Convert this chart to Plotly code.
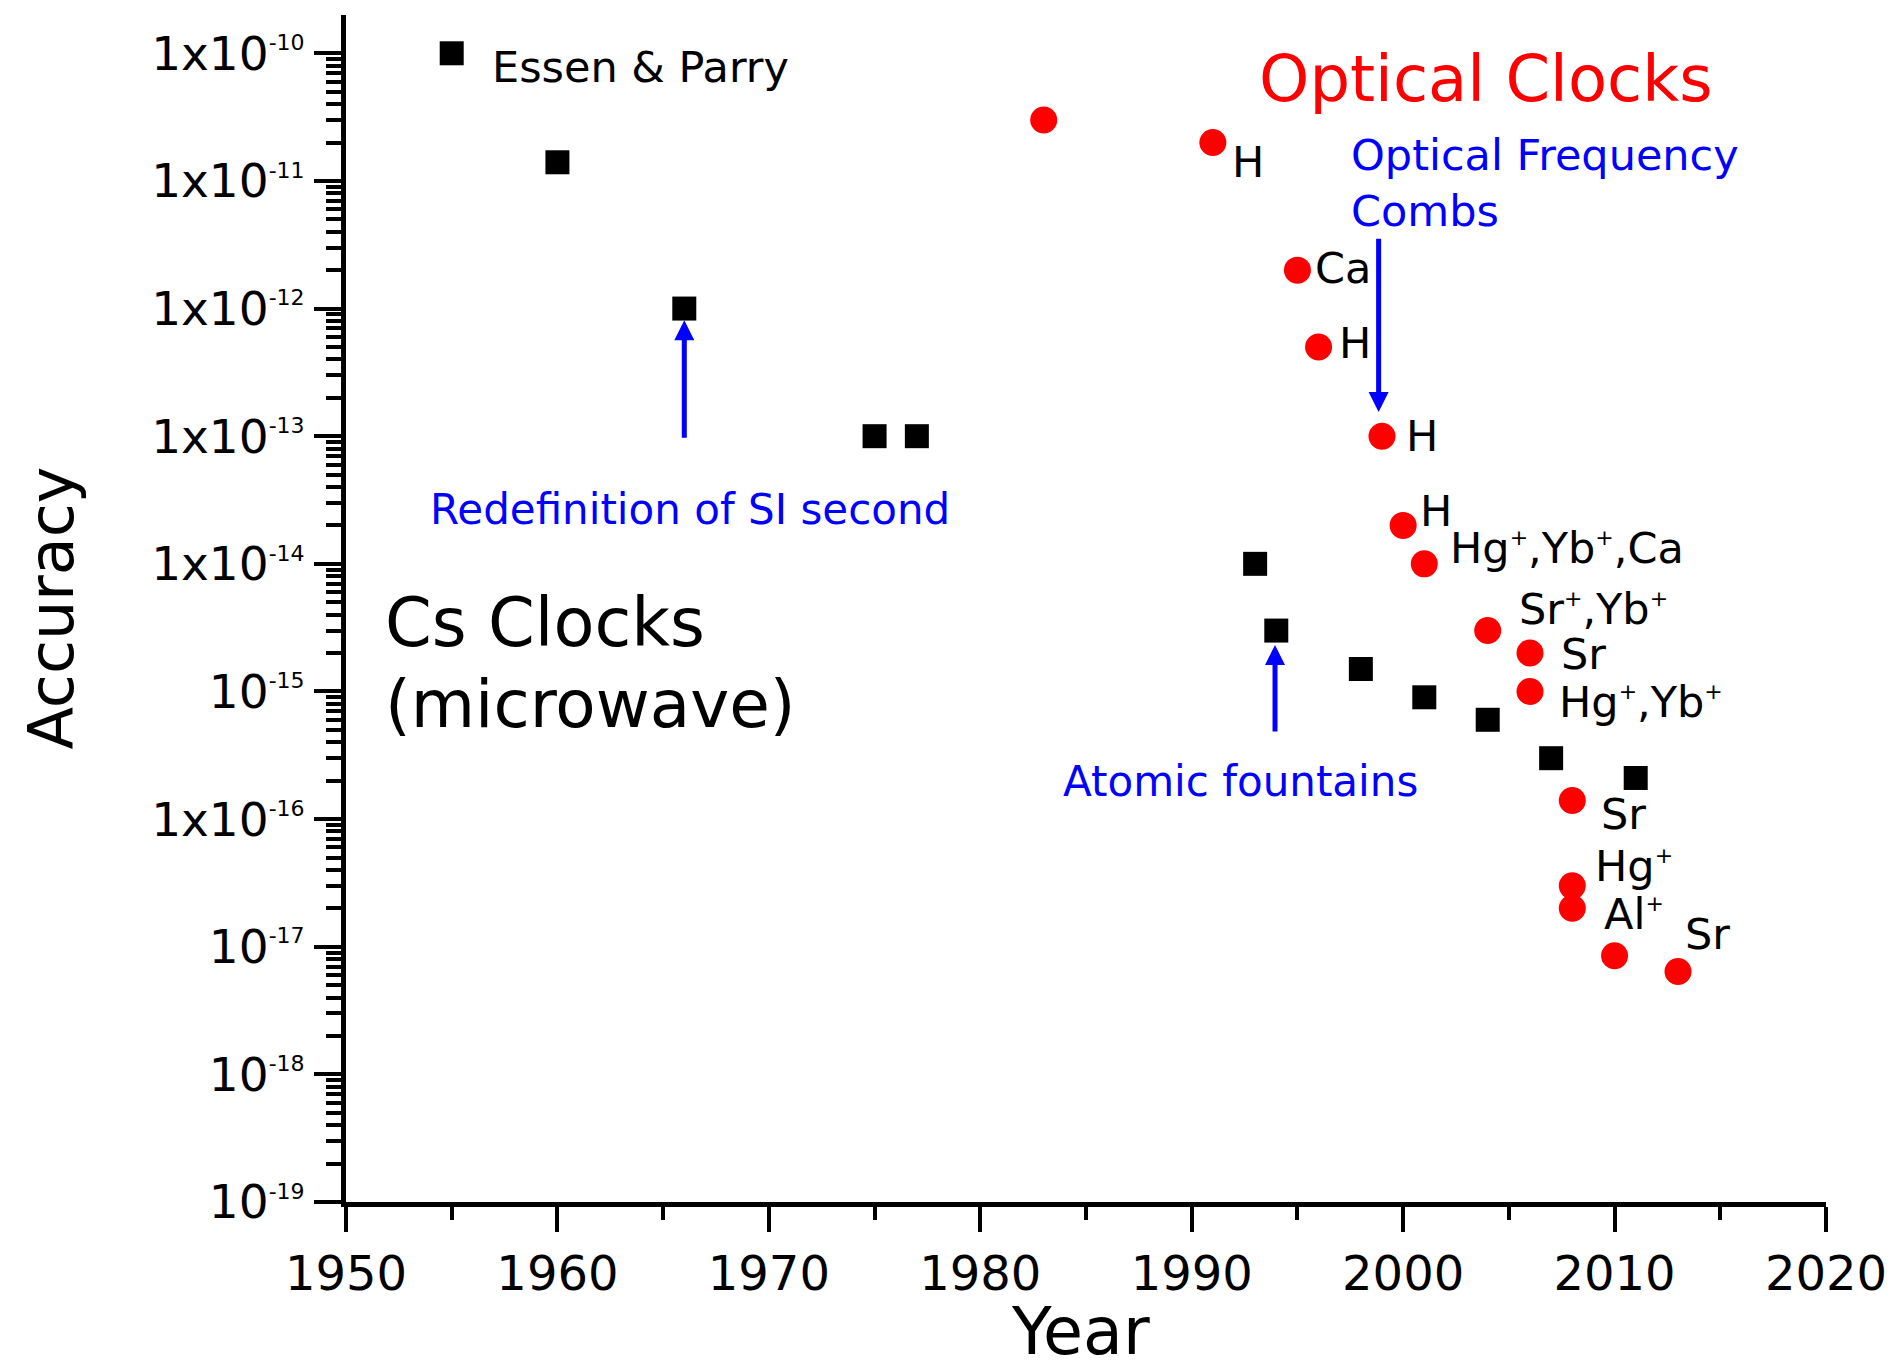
import math
import plotly.graph_objects as go

# ---------------- data ----------------
cs_years = [1955, 1960, 1966, 1975, 1977, 1993, 1994, 1998, 2001, 2004, 2007, 2011]
cs_accuracy = [1e-10, 1.4e-11, 1e-12, 1e-13, 1e-13, 1e-14, 3e-15, 1.5e-15, 9e-16, 6e-16, 3e-16, 2.1e-16]

opt_years = [1983, 1991, 1995, 1996, 1999, 2000, 2001, 2004, 2006, 2006, 2008, 2008, 2008, 2010, 2013]
opt_accuracy = [3e-11, 2e-11, 2e-12, 5e-13, 1e-13, 2e-14, 1e-14, 3e-15, 2e-15, 1e-15,
                1.4e-16, 3e-17, 2e-17, 8.5e-18, 6.4e-18]
opt_labels = ["", "H", "Ca", "H", "H", "H", "Hg+,Yb+,Ca", "Sr+,Yb+", "Sr", "Hg+,Yb+",
              "Sr", "Hg+", "Al+", "", "Sr"]

x_ticks = [1950, 1960, 1970, 1980, 1990, 2000, 2010, 2020]
x_minor = [1955, 1965, 1975, 1985, 1995, 2005, 2015]
y_exponents = [-19, -18, -17, -16, -15, -14, -13, -12, -11, -10]
y_prefix = ["", "", "", "1x", "", "1x", "1x", "1x", "1x", "1x"]

# ---------------- styling ----------------
FONT = "DejaVu Sans"
label_shift = [(0, 0), (17, -19), (16, 2), (18, 4), (22, 0), (15, 14), (24, 16), (29, 22),
               (29, -1), (27, -11), (27, -14), (21, 20), (30, -6), (0, 0), (5, 37)]


def sup_html(text, size):
    return text.replace("+", "<sup><span style='font-size:%dpx'>+</span></sup>" % size)


y_tickvals = [10.0 ** e for e in y_exponents]
y_ticktext = ["%s10<sup><span style='font-size:22px'>%d</span></sup>" % (p, e)
              for p, e in zip(y_prefix, y_exponents)]
y_minor = [m * 10.0 ** e for e in y_exponents[:-1] for m in range(2, 10)]
y_range = [-19, -9.7]

fig = go.Figure()
fig.add_trace(go.Scatter(x=cs_years, y=cs_accuracy, mode="markers",
                         marker=dict(symbol="square", size=24, color="black", line=dict(width=0)),
                         name="Cs clocks"))
fig.add_trace(go.Scatter(x=opt_years, y=opt_accuracy, mode="markers",
                         marker=dict(symbol="circle", size=27, color="#FF0000", line=dict(width=0)),
                         name="Optical clocks"))

ann = []
# point labels
for xv, yv, lab, (dx, dy) in zip(opt_years, opt_accuracy, opt_labels, label_shift):
    if not lab:
        continue
    ann.append(dict(x=xv, y=math.log10(yv), xref="x", yref="y", text=sup_html(lab, 22),
                    showarrow=False, xanchor="left", yanchor="middle", xshift=dx, yshift=dy,
                    font=dict(family=FONT, size=43, color="black")))
ann.append(dict(x=cs_years[0], y=math.log10(cs_accuracy[0]), xref="x", yref="y",
                text="Essen & Parry", showarrow=False, xanchor="left", yanchor="middle",
                xshift=38, yshift=-14, font=dict(family=FONT, size=43, color="black")))

# free texts
free = [
    dict(x=1993.1, y=-10.2, text="Optical Clocks", font=dict(family=FONT, size=64, color="#FF0000")),
    dict(x=1997.45, y=-11.014, text="Optical Frequency<br>Combs", align="left",
         font=dict(family=FONT, size=43, color="#0000FF")),
    dict(x=1953.88, y=-13.571, text="Redefinition of SI second", font=dict(family=FONT, size=42, color="#0000FF")),
    dict(x=1951.75, y=-14.464, text="Cs Clocks", font=dict(family=FONT, size=67, color="black")),
    dict(x=1951.75, y=-15.106, text="(microwave)", font=dict(family=FONT, size=66, color="black")),
    dict(x=1983.82, y=-15.709, text="Atomic fountains", font=dict(family=FONT, size=42, color="#0000FF")),
]
for a in free:
    a.update(xref="x", yref="y", showarrow=False, xanchor="left", yanchor="middle")
ann += free

# arrows
for (xa, tip, tail) in [(1966, -12.091, -13.023), (1998.84, -12.811, -11.441), (1993.94, -14.636, -15.325)]:
    ann.append(dict(x=xa, y=tip, ax=xa, ay=tail, xref="x", yref="y", axref="x", ayref="y",
                    text="", showarrow=True, arrowhead=2, arrowsize=0.8, arrowwidth=5,
                    arrowcolor="#0000FF", standoff=0, startstandoff=0))

# axis titles
ann.append(dict(x=-0.1993, y=0.5, xref="paper", yref="paper", text="Accuracy", textangle=-90,
                showarrow=False, xanchor="center", yanchor="middle",
                font=dict(family=FONT, size=62, color="black")))
ann.append(dict(x=0.4966, y=-0.109, xref="paper", yref="paper", text="Year",
                showarrow=False, xanchor="center", yanchor="middle",
                font=dict(family=FONT, size=65, color="black")))

common_x = dict(range=[1950, 2020], showgrid=False, zeroline=False, showline=True, automargin=False,
                linewidth=5, linecolor="black", tickcolor="black", tickwidth=4)
common_y = dict(type="log", range=y_range, showgrid=False, zeroline=False, showline=True, automargin=False,
                linewidth=5, linecolor="black", tickcolor="black", tickwidth=4)

fig.update_layout(
    width=1889, height=1372,
    margin=dict(l=346, r=63, t=15, b=170, autoexpand=False),
    paper_bgcolor="white", plot_bgcolor="white", showlegend=False,
    font=dict(family=FONT, color="black"),
    xaxis=dict(**common_x, tickmode="array", tickvals=x_ticks, ticktext=[str(v) for v in x_ticks],
               ticks="outside", ticklen=25, tickfont=dict(family=FONT, size=48, color="black"),
               minor=dict(tickmode="array", tickvals=x_minor, ticks="outside", ticklen=13,
                          tickwidth=4, tickcolor="black", showgrid=False)),
    xaxis2=dict(**common_x, overlaying="x", side="top", anchor="y", tickmode="array",
                tickvals=x_ticks, ticks="inside", ticklen=23, showticklabels=False,
                minor=dict(tickmode="array", tickvals=x_minor, ticks="inside", ticklen=13,
                           tickwidth=4, tickcolor="black", showgrid=False)),
    yaxis=dict(**common_y, tickmode="array", tickvals=y_tickvals, ticktext=y_ticktext,
               ticks="outside", ticklen=27, tickfont=dict(family=FONT, size=47, color="black"),
               minor=dict(tickmode="array", tickvals=y_minor, ticks="outside", ticklen=15,
                          tickwidth=4, tickcolor="black", showgrid=False)),
    yaxis2=dict(**common_y, overlaying="y", side="right", anchor="x", tickmode="array",
                tickvals=y_tickvals, ticks="inside", ticklen=25, showticklabels=False,
                minor=dict(tickmode="array", tickvals=y_minor, ticks="inside", ticklen=14,
                           tickwidth=4, tickcolor="black", showgrid=False)),
    annotations=ann,
)

fig.write_html("out.html")
